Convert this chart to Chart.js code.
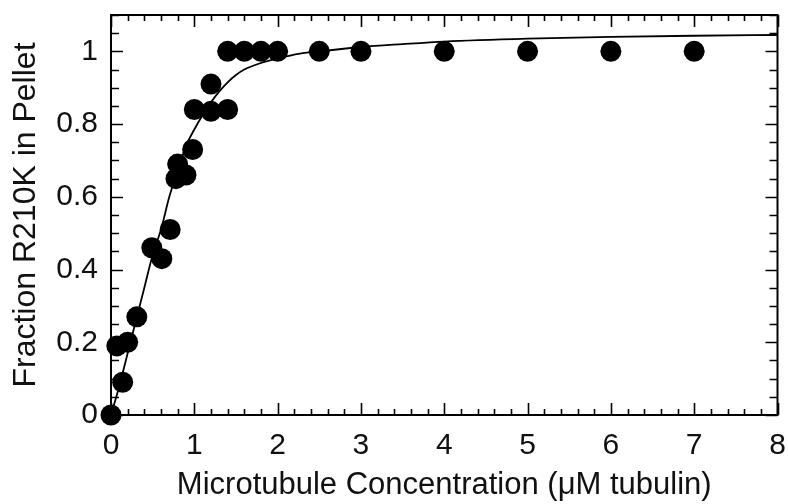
<!DOCTYPE html>
<html lang="en">
<head>
    <meta charset="UTF-8">
    <title>Fraction R210K in Pellet</title>
    <script src="https://cdn.jsdelivr.net/npm/chart.js"></script>
    <style>
        body {
            margin: 0;
            background: #fff;
        }
        #wrap {
            width: 788px;
            height: 504px;
        }
    </style>
</head>
<body>
    <div id="wrap">
        <canvas id="chart" width="788" height="504"></canvas>
    </div>

    <script>
        // measured points (µM tubulin, fraction in pellet)
        const pointX = [0, 0.07, 0.14, 0.2, 0.31, 0.49, 0.61, 0.71, 0.8, 0.78, 0.9, 0.98, 1.0, 1.2, 1.4, 1.2, 1.4, 1.6, 1.8, 2.0, 2.5, 3, 4, 5, 6, 7];
        const pointY = [0, 0.19, 0.09, 0.2, 0.27, 0.46, 0.43, 0.51, 0.69, 0.65, 0.66, 0.73, 0.84, 0.835, 0.84, 0.91, 1.0, 1.0, 1.0, 1.0, 1.0, 1.0, 1.0, 1.0, 1.0, 1.0];

        // fitted curve
        const fitX = [0, 0.1, 0.2, 0.3, 0.4, 0.5, 0.6, 0.7, 0.8, 0.9, 1.0, 1.1, 1.2, 1.3, 1.4, 1.5, 1.6, 1.8, 2.0, 2.25, 2.5, 3, 3.5, 4, 5, 6, 7, 8];
        const fitY = [0, 0.08, 0.17, 0.26, 0.35, 0.44, 0.51, 0.6, 0.67, 0.74, 0.785, 0.825, 0.86, 0.89, 0.915, 0.935, 0.95, 0.968, 0.98, 0.993, 1.0, 1.012, 1.02, 1.027, 1.035, 1.04, 1.043, 1.045];

        const xTicks = [0, 1, 2, 3, 4, 5, 6, 7, 8];
        const yTicks = [0, 0.2, 0.4, 0.6, 0.8, 1];

        const FONT = 'Arial, "Liberation Sans", Helvetica, sans-serif';

        // inward ticks on all four sides + frame
        const framePlugin = {
            id: 'frame',
            afterDatasetsDraw(chart) {
                const {ctx, chartArea: a, scales: {x, y}} = chart;
                ctx.save();
                ctx.strokeStyle = '#000';
                ctx.lineWidth = 2;
                ctx.strokeRect(a.left, a.top, a.right - a.left, a.bottom - a.top);
                ctx.lineWidth = 1.6;
                ctx.beginPath();
                for (let v = 0; v <= 8.001; v += 0.2) {
                    const px = Math.round(x.getPixelForValue(v)) + 0.5;
                    const major = Math.abs(v - Math.round(v)) < 0.001;
                    const len = major ? 12 : 6;
                    ctx.moveTo(px, a.bottom); ctx.lineTo(px, a.bottom - len);
                    ctx.moveTo(px, a.top); ctx.lineTo(px, a.top + len);
                }
                for (let v = 0; v <= 1.101; v += 0.05) {
                    const py = Math.round(y.getPixelForValue(v)) + 0.5;
                    const major = Math.abs(v * 5 - Math.round(v * 5)) < 0.001;
                    const len = major ? 12 : 8;
                    ctx.moveTo(a.left, py); ctx.lineTo(a.left + len, py);
                    ctx.moveTo(a.right, py); ctx.lineTo(a.right - len, py);
                }
                ctx.stroke();
                ctx.restore();
            }
        };

        new Chart(document.getElementById('chart'), {
            type: 'scatter',
            data: {
                datasets: [{
                    type: 'line',
                    data: fitX.map((v, i) => ({x: v, y: fitY[i]})),
                    borderColor: '#000',
                    borderWidth: 1.8,
                    pointRadius: 0,
                    fill: false,
                    cubicInterpolationMode: 'monotone',
                    order: 2
                }, {
                    data: pointX.map((v, i) => ({x: v, y: pointY[i]})),
                    backgroundColor: '#000',
                    borderWidth: 0,
                    pointRadius: 10.5,
                    clip: false,
                    order: 1
                }]
            },
            options: {
                responsive: false,
                animation: false,
                layout: {padding: {top: 15, right: 10, left: 0, bottom: 0}},
                plugins: {legend: {display: false}, tooltip: {enabled: false}},
                scales: {
                    x: {
                        type: 'linear',
                        min: 0,
                        max: 8,
                        grid: {display: false, drawTicks: false},
                        border: {display: false},
                        afterFit: s => {
                            s.height = 89;
                            s.paddingLeft = 0;
                            s.paddingRight = 0;
                        },
                        afterBuildTicks: s => { s.ticks = xTicks.map(v => ({value: v})); },
                        ticks: {
                            color: '#111',
                            padding: 13,
                            font: {family: FONT, size: 30},
                            maxRotation: 0,
                            callback: v => String(v)
                        },
                        title: {
                            display: true,
                            text: 'Microtubule Concentration (\u03BCM tubulin)',
                            color: '#111',
                            font: {family: FONT, size: 31},
                            padding: {top: 0, bottom: 0}
                        }
                    },
                    y: {
                        type: 'linear',
                        min: 0,
                        max: 1.1,
                        grid: {display: false, drawTicks: false},
                        border: {display: false},
                        afterFit: s => {
                            s.width = 111;
                            s.paddingTop = 0;
                            s.paddingBottom = 0;
                        },
                        afterBuildTicks: s => { s.ticks = yTicks.map(v => ({value: v})); },
                        ticks: {
                            color: '#111',
                            padding: 13,
                            font: {family: FONT, size: 30},
                            callback: v => String(v)
                        },
                        title: {
                            display: true,
                            text: 'Fraction R210K in Pellet',
                            color: '#111',
                            font: {family: FONT, size: 32},
                            padding: {top: 7, bottom: 0}
                        }
                    }
                }
            },
            plugins: [framePlugin]
        });
    </script>
</body>
</html>
